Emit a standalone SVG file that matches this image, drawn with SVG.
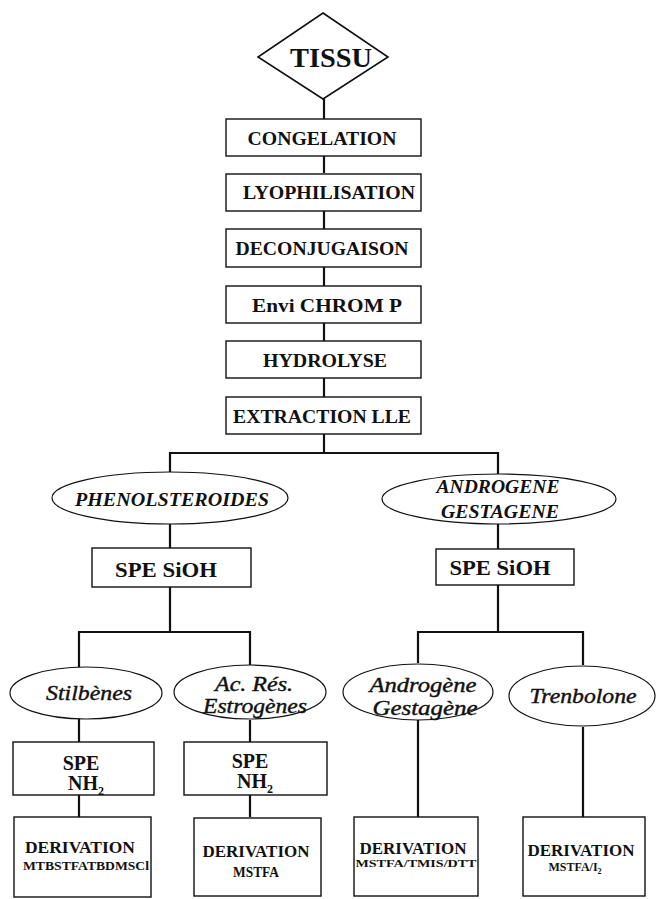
<svg xmlns="http://www.w3.org/2000/svg" width="656" height="899" viewBox="0 0 656 899">
<style>
.bx{fill:#fff;stroke:#111;stroke-width:1.4}
.el{fill:#fff;stroke:#111;stroke-width:1.2}
.c{fill:none;stroke:#111;stroke-width:2.2}
.t{font-family:"Liberation Serif","Times New Roman",serif;font-weight:bold;fill:#111;text-anchor:middle}
.i{font-family:"Liberation Serif","Times New Roman",serif;font-style:italic;fill:#111;stroke:#111;stroke-width:0.4;text-anchor:middle}
.ib{font-family:"Liberation Serif","Times New Roman",serif;font-style:italic;font-weight:bold;fill:#111;text-anchor:middle}
</style>
<rect width="656" height="899" fill="#fff"/>
<g id="connectors">
<path class="c" d="M324 99V119M324 156V173M324 211V229M324 267V286M324 323V341M324 378V397M324 433V453"/>
<path class="c" d="M170 472V453H498V475"/>
<path class="c" d="M170 524V548M170 587V632M79 667V632H250V665"/>
<path class="c" d="M498 524V549M498 585V632M418 663V632H583V665"/>
<path class="c" d="M79 719V742M250 720V742M79 795V817M250 795V817M418 720V817M583 727V817"/>
</g>
<g id="tissu">
<polygon points="323,13 388,57 323,99 258,57" fill="#fff" stroke="#111" stroke-width="1.6"/>
<text class="t" x="331" y="67" font-size="27" textLength="82" lengthAdjust="spacingAndGlyphs">TISSU</text>
</g>
<g id="congelation"><rect class="bx" x="226" y="119" width="195" height="37"/><text class="t" x="322" y="145" font-size="18" textLength="149" lengthAdjust="spacingAndGlyphs">CONGELATION</text></g>
<g id="lyophilisation"><rect class="bx" x="226" y="174" width="195" height="37"/><text class="t" x="329" y="199" font-size="18" textLength="172" lengthAdjust="spacingAndGlyphs">LYOPHILISATION</text></g>
<g id="deconjugaison"><rect class="bx" x="226" y="229" width="195" height="38"/><text class="t" x="322" y="255" font-size="18" textLength="173" lengthAdjust="spacingAndGlyphs">DECONJUGAISON</text></g>
<g id="envichrom"><rect class="bx" x="226" y="286" width="195" height="37"/><text class="t" x="327" y="312" font-size="19" textLength="150" lengthAdjust="spacingAndGlyphs">Envi CHROM P</text></g>
<g id="hydrolyse"><rect class="bx" x="226" y="341" width="195" height="37"/><text class="t" x="325" y="367" font-size="18" textLength="124" lengthAdjust="spacingAndGlyphs">HYDROLYSE</text></g>
<g id="extraction"><rect class="bx" x="226" y="397" width="195" height="37"/><text class="t" x="322" y="423" font-size="18" textLength="178" lengthAdjust="spacingAndGlyphs">EXTRACTION LLE</text></g>
<g id="phenolsteroides"><ellipse class="el" cx="170" cy="498" rx="118" ry="26"/><text class="ib" x="172" y="506" font-size="19" textLength="194" lengthAdjust="spacingAndGlyphs">PHENOLSTEROIDES</text></g>
<g id="androgene-gestagene"><ellipse class="el" cx="499" cy="499" rx="117" ry="25"/><text class="ib" x="498" y="493" font-size="18" textLength="123" lengthAdjust="spacingAndGlyphs">ANDROGENE</text><text class="ib" x="500" y="518" font-size="18" textLength="118" lengthAdjust="spacingAndGlyphs">GESTAGENE</text></g>
<g id="spe-sioh-left"><rect class="bx" x="92" y="548" width="159" height="39"/><text class="t" x="166" y="577" font-size="22" textLength="102" lengthAdjust="spacingAndGlyphs">SPE SiOH</text></g>
<g id="spe-sioh-right"><rect class="bx" x="436" y="549" width="138" height="36"/><text class="t" x="500" y="575" font-size="22" textLength="101" lengthAdjust="spacingAndGlyphs">SPE SiOH</text></g>
<g id="stilbenes"><ellipse class="el" cx="86" cy="693" rx="76" ry="26"/><text class="i" x="89" y="700" font-size="21" textLength="86" lengthAdjust="spacingAndGlyphs">Stilbènes</text></g>
<g id="acres"><ellipse class="el" cx="250" cy="692" rx="76" ry="27"/><text class="i" x="254" y="691" font-size="20" textLength="78" lengthAdjust="spacingAndGlyphs">Ac. Rés.</text><text class="i" x="255" y="713" font-size="20" textLength="104" lengthAdjust="spacingAndGlyphs">Estrogènes</text></g>
<g id="androgene"><ellipse class="el" cx="418" cy="692" rx="75" ry="28"/><text class="i" x="423" y="692" font-size="20" textLength="107" lengthAdjust="spacingAndGlyphs">Androgène</text><text class="i" x="425" y="715" font-size="20" textLength="105" lengthAdjust="spacingAndGlyphs">Gestagène</text></g>
<g id="trenbolone"><ellipse class="el" cx="582" cy="696" rx="73" ry="30"/><text class="i" x="583" y="703" font-size="20" textLength="107" lengthAdjust="spacingAndGlyphs">Trenbolone</text></g>
<g id="spe-nh2-left"><rect class="bx" x="13" y="742" width="141" height="53"/><text class="t" x="81" y="770" font-size="20">SPE</text><text class="t" x="86" y="790" font-size="20">NH<tspan font-size="12" dy="5">2</tspan></text></g>
<g id="spe-nh2-right"><rect class="bx" x="184" y="742" width="143" height="53"/><text class="t" x="250" y="768" font-size="20">SPE</text><text class="t" x="255" y="788" font-size="20">NH<tspan font-size="12" dy="5">2</tspan></text></g>
<g id="derivation-1"><rect class="bx" x="14" y="817" width="137" height="80"/><text class="t" x="80" y="853" font-size="17" textLength="110" lengthAdjust="spacingAndGlyphs">DERIVATION</text><text class="t" x="86" y="870" font-size="12" textLength="126" lengthAdjust="spacingAndGlyphs">MTBSTFATBDMSCl</text></g>
<g id="derivation-2"><rect class="bx" x="194" y="818" width="127" height="78"/><text class="t" x="256" y="857" font-size="17" textLength="107" lengthAdjust="spacingAndGlyphs">DERIVATION</text><text class="t" x="256" y="877" font-size="14" textLength="46" lengthAdjust="spacingAndGlyphs">MSTFA</text></g>
<g id="derivation-3"><rect class="bx" x="354" y="817" width="124" height="79"/><text class="t" x="413" y="854" font-size="17" textLength="107" lengthAdjust="spacingAndGlyphs">DERIVATION</text><text class="t" x="416" y="867" font-size="11" textLength="121" lengthAdjust="spacingAndGlyphs">MSTFA/TMIS/DTT</text></g>
<g id="derivation-4"><rect class="bx" x="523" y="817" width="122" height="79"/><text class="t" x="581" y="856" font-size="17" textLength="107" lengthAdjust="spacingAndGlyphs">DERIVATION</text><text class="t" x="575" y="871" font-size="12">MSTFA/I<tspan font-size="8" dy="3">2</tspan></text></g>
</svg>
